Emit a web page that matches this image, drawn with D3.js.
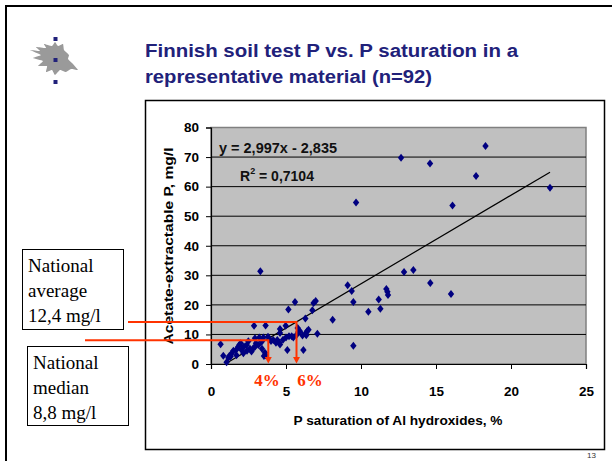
<!DOCTYPE html>
<html>
<head>
<meta charset="utf-8">
<script src="https://cdn.jsdelivr.net/npm/d3@7"></script>
<style>
  body { margin: 0; background: #fff; }
  svg { display: block; }
</style>
</head>
<body>
<script>
// P saturation of Al hydroxides (%) and acetate-extractable P (mg/l)
const satX = [12.67, 14.6, 18.3, 17.67, 16.1, 22.6, 9.67, 9.11, 9.38, 9.49,
  12.87, 13.49, 14.62, 16.0, 11.69, 11.76, 11.8, 11.18, 11.29, 10.49,
  8.11, 9.49, 6.98, 6.84, 6.76, 6.29, 6.4, 6.3, 6.35, 7.09,
  6.16, 5.93, 3.29, 5.6, 5.16, 4.6, 4.98, 5.78, 5.84, 5.09,
  5.2, 5.38, 5.49, 5.0, 4.42, 4.56, 4.33, 4.6, 4.15, 2.87,
  3.64, 2.93, 3.22, 3.49, 3.38, 3.16, 2.82, 2.93, 3.6, 3.53,
  3.64, 2.49, 2.38, 1.98, 1.89, 1.82, 2.04, 2.16, 1.67, 1.49,
  1.38, 1.31, 1.22, 1.16, 1.04, 0.82, 0.64, 4.6, 3.9, 4.0,
  2.6, 2.2, 1.7, 2.7, 3.0, 3.8, 4.8, 6.5, 6.1, 2.4,
  3.4, 5.7];
const soilP = [69.8, 67.8, 73.7, 63.6, 53.6, 59.6, 54.6, 26.6, 24.7, 21.0,
  31.1, 31.8, 27.4, 23.7, 25.4, 24.4, 23.3, 21.8, 18.7, 17.7,
  15.0, 6.2, 21.3, 20.6, 18.2, 15.4, 11.1, 10.3, 9.7, 10.2,
  4.7, 11.1, 31.4, 21.0, 18.4, 11.8, 12.9, 12.2, 10.9, 4.7,
  9.4, 9.4, 9.0, 9.0, 8.1, 7.2, 7.2, 6.6, 8.1, 12.9,
  13.0, 8.75, 9.0, 9.0, 7.5, 6.4, 5.3, 5.8, 3.8, 2.7,
  3.0, 7.7, 6.4, 7.0, 6.4, 5.8, 4.7, 3.6, 4.7, 4.5,
  3.6, 2.5, 2.7, 2.1, 0.6, 2.8, 6.7, 10.5, 8.4, 7.8,
  5.2, 5.9, 3.0, 4.2, 7.0, 9.2, 8.2, 11.6, 9.6, 4.5,
  5.2, 9.8];

const xTicks = [0, 5, 10, 15, 20, 25];
const yTicks = [0, 10, 20, 30, 40, 50, 60, 70, 80];

// linear trend line given on the chart, drawn over the data's x range
const trendSlope = 2.997;
const trendIntercept = -2.835;
const trendRange = [1.05, 22.6];

// reading guides: [saturation %, P mg/l] where the guide meets the trend line
const medianPoint = [3.82, 8.0];
const averagePoint = [5.7, 14.2];

const titleLines = ["Finnish soil test P vs. P saturation in a", "representative material (n=92)"];
const averageText = ["National", "average", "12,4 mg/l"];
const medianText = ["National", "median", "8,8 mg/l"];

const W = 612, H = 461;
const navy = "#21217a";
const red = "#ff3300";
const font = "Liberation Sans, Arial, sans-serif";
const serif = "'Liberation Serif', 'Times New Roman', serif";

const svg = d3.select("body").append("svg")
  .attr("width", W)
  .attr("height", H);

// slide frame
svg.append("path")
  .attr("d", "M6,461 L6,6 L612,6")
  .attr("fill", "none")
  .attr("stroke", "#000")
  .attr("stroke-width", 2);

// logo: grey flame with three blue dots
const flame = [[30,50],[40,51],[36,47],[46,48],[44,44],[52,46],[55,42],[58,46],[63,44],[64,50],[69,55],[68,59],[73,64],[78,70],[71,69],[66,72],[60,70],[55,75],[52,70],[46,72],[47,66],[38,66],[43,61],[33,58],[41,55]];
svg.append("path")
  .attr("d", d3.line().curve(d3.curveCardinalClosed.tension(0.6))(flame))
  .attr("fill", "#9a9a9a");
[39, 60, 82].forEach(cy => {
  svg.append("rect")
    .attr("x", 53.5).attr("y", cy - 2)
    .attr("width", 4).attr("height", 4)
    .attr("fill", navy);
});

// title
svg.selectAll(".title")
  .data(titleLines)
  .enter()
  .append("text")
  .attr("class", "title")
  .attr("x", 145)
  .attr("y", (d, i) => 57 + i * 26)
  .attr("font-family", font)
  .attr("font-weight", "bold")
  .attr("font-size", 18)
  .attr("fill", navy)
  .attr("textLength", (d, i) => i === 0 ? 373 : 287)
  .attr("lengthAdjust", "spacingAndGlyphs")
  .text(d => d);

// chart box
svg.append("rect")
  .attr("x", 145.5).attr("y", 100.5)
  .attr("width", 459).attr("height", 349)
  .attr("fill", "#fff")
  .attr("stroke", "#000")
  .attr("stroke-width", 1.5);

const xScale = d3.scaleLinear().domain([0, 25]).range([211, 586]);
const yScale = d3.scaleLinear().domain([0, 80]).range([364, 127.5]);

// plot area
svg.append("rect")
  .attr("x", xScale(0)).attr("y", yScale(80))
  .attr("width", xScale(25) - xScale(0))
  .attr("height", yScale(0) - yScale(80))
  .attr("fill", "#c0c0c0")
  .attr("stroke", "#808080")
  .attr("stroke-width", 1.5);

// gridlines
svg.append("g")
  .selectAll("line")
  .data(yTicks.filter(v => v > 0 && v < 80))
  .enter()
  .append("line")
  .attr("x1", xScale(0)).attr("x2", xScale(25))
  .attr("y1", d => yScale(d)).attr("y2", d => yScale(d))
  .attr("stroke", "#000")
  .attr("stroke-width", 1);

const xAxis = d3.axisBottom(xScale).tickValues(xTicks).tickSize(5).tickPadding(17).tickFormat(d3.format("d"));
const yAxis = d3.axisLeft(yScale).tickValues(yTicks).tickSize(5).tickPadding(7).tickFormat(d3.format("d"));

const gx = svg.append("g")
  .attr("transform", "translate(0," + yScale(0) + ")")
  .call(xAxis);
const gy = svg.append("g")
  .attr("transform", "translate(" + xScale(0) + ",0)")
  .call(yAxis);

[gx, gy].forEach(g => {
  g.select(".domain").attr("stroke", "#000").attr("stroke-width", 1.2);
  g.selectAll(".tick line").attr("stroke", "#000");
  g.selectAll(".tick text")
    .attr("font-family", font)
    .attr("font-weight", "bold")
    .attr("font-size", 13.5)
    .attr("fill", "#000");
});

// axis titles
svg.append("text")
  .attr("x", 398).attr("y", 425)
  .attr("text-anchor", "middle")
  .attr("font-family", font)
  .attr("font-weight", "bold")
  .attr("font-size", 13.5)
  .attr("textLength", 209)
  .attr("lengthAdjust", "spacingAndGlyphs")
  .text("P saturation of Al hydroxides, %");

svg.append("text")
  .attr("transform", "translate(173,246) rotate(-90)")
  .attr("text-anchor", "middle")
  .attr("font-family", font)
  .attr("font-weight", "bold")
  .attr("font-size", 13.5)
  .attr("textLength", 197)
  .attr("lengthAdjust", "spacingAndGlyphs")
  .text("Acetate-extractable P, mg/l");

// trend line
svg.append("line")
  .attr("x1", xScale(trendRange[0]))
  .attr("y1", yScale(trendSlope * trendRange[0] + trendIntercept))
  .attr("x2", xScale(trendRange[1]))
  .attr("y2", yScale(trendSlope * trendRange[1] + trendIntercept))
  .attr("stroke", "#000")
  .attr("stroke-width", 1.2);

// points
const points = satX.map((x, i) => [x, soilP[i]]);
svg.append("g")
  .selectAll("path")
  .data(points)
  .enter()
  .append("path")
  .attr("transform", d => "translate(" + xScale(d[0]) + "," + yScale(d[1]) + ")")
  .attr("d", "M0,-4L3.2,0L0,4L-3.2,0Z")
  .attr("fill", "#000080");

// equation
svg.append("text")
  .attr("x", 219).attr("y", 153)
  .attr("font-family", font)
  .attr("font-weight", "bold")
  .attr("font-size", 14)
  .attr("fill", "#111")
  .attr("textLength", 118)
  .attr("lengthAdjust", "spacingAndGlyphs")
  .text("y = 2,997x - 2,835");

const r2 = svg.append("text")
  .attr("x", 240).attr("y", 181)
  .attr("font-family", font)
  .attr("font-weight", "bold")
  .attr("font-size", 14)
  .attr("fill", "#111");
r2.append("tspan").text("R");
r2.append("tspan").attr("dy", -7).attr("font-size", 9).text("2");
r2.append("tspan").attr("dy", 7).text(" = 0,7104");

// reading guides
function guide(pt, startX) {
  const px = xScale(pt[0]), py = yScale(pt[1]);
  svg.append("path")
    .attr("d", "M" + startX + "," + py + "L" + px + "," + py + "L" + px + "," + (yScale(0) - 6))
    .attr("fill", "none")
    .attr("stroke", red)
    .attr("stroke-width", 2);
  svg.append("path")
    .attr("d", "M" + (px - 3.5) + "," + (yScale(0) - 7) + "L" + (px + 3.5) + "," + (yScale(0) - 7) + "L" + px + "," + (yScale(0) - 0.5) + "Z")
    .attr("fill", red);
}
guide(averagePoint, 128);
guide(medianPoint, 85);

[["4%", 267], ["6%", 310]].forEach(([label, cx]) => {
  svg.append("text")
    .attr("x", cx).attr("y", 386)
    .attr("text-anchor", "middle")
    .attr("font-family", serif)
    .attr("font-weight", "bold")
    .attr("font-size", 17)
    .attr("fill", red)
    .text(label);
});

// note boxes
function noteBox(lines, x, y, w, h) {
  svg.append("rect")
    .attr("x", x + 0.5).attr("y", y + 0.5)
    .attr("width", w).attr("height", h)
    .attr("fill", "#fff")
    .attr("stroke", "#000")
    .attr("stroke-width", 1);
  svg.selectAll(null)
    .data(lines)
    .enter()
    .append("text")
    .attr("x", x + 6)
    .attr("y", (d, i) => y + 23 + i * 25)
    .attr("font-family", serif)
    .attr("font-size", 19)
    .attr("fill", "#000")
    .text(d => d);
}
noteBox(averageText, 22, 249, 101, 80);
noteBox(medianText, 27, 346, 101, 79);

// page number
svg.append("text")
  .attr("x", 596).attr("y", 458)
  .attr("text-anchor", "end")
  .attr("font-family", font)
  .attr("font-size", 8)
  .attr("fill", "#333")
  .text("13");
</script>
</body>
</html>
